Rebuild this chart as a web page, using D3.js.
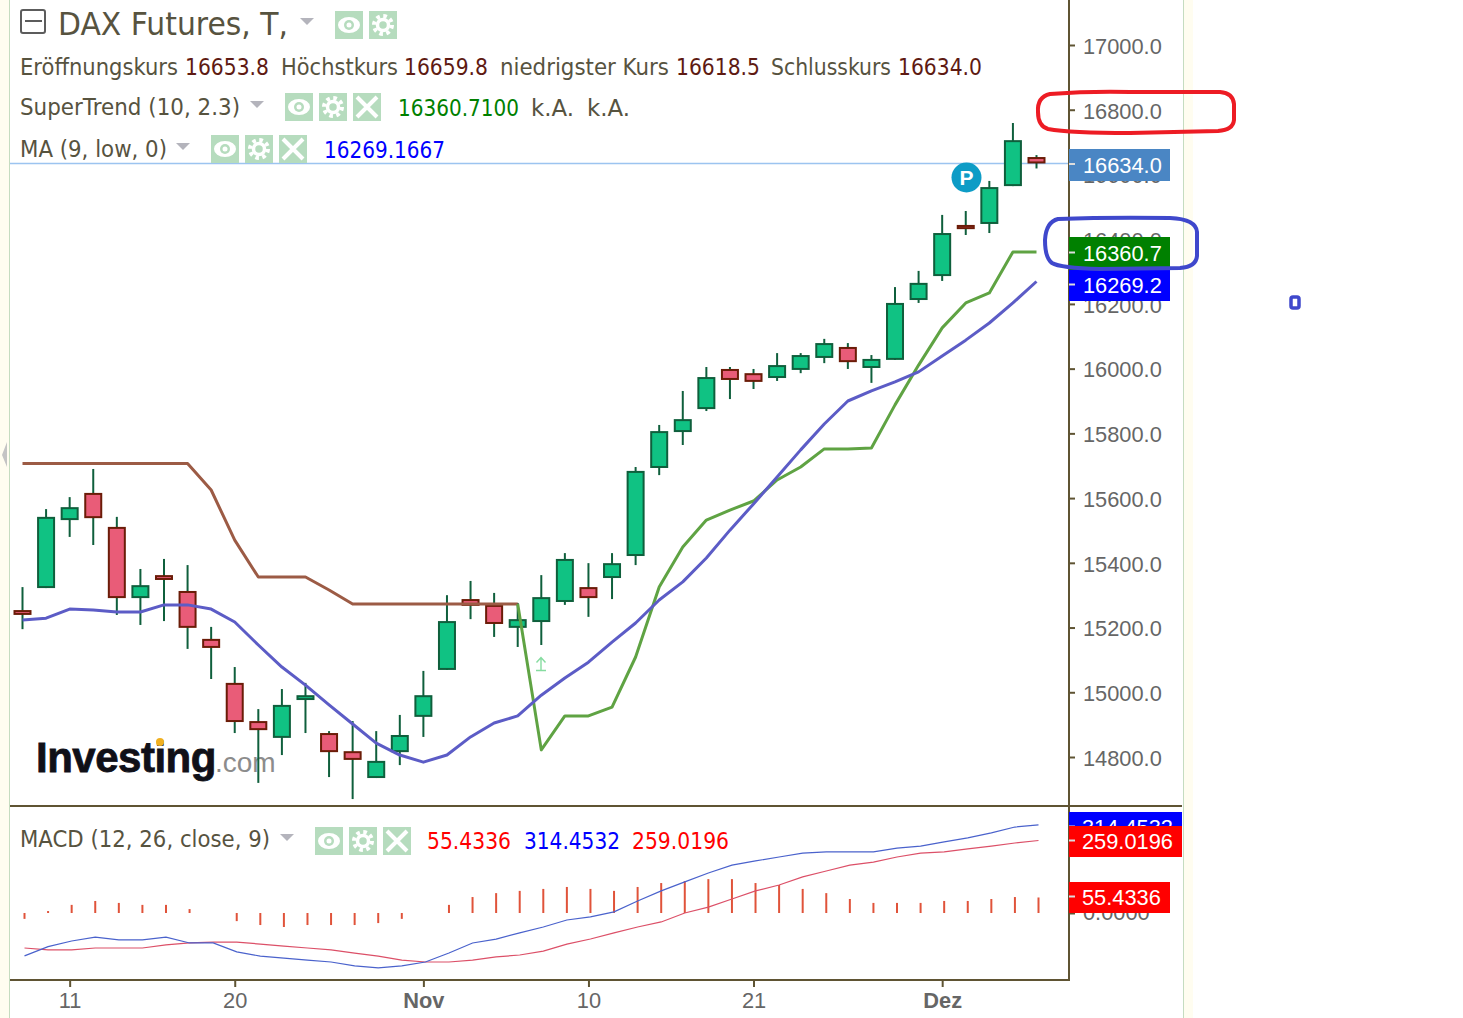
<!DOCTYPE html>
<html>
<head>
<meta charset="utf-8">
<script src="https://cdn.jsdelivr.net/npm/d3@7"></script>
<style>
html, body { margin: 0; padding: 0; background: #fff; }
svg { display: block; }
</style>
</head>
<body>
<svg id="chart" width="1463" height="1018"></svg>
<script>
// daily DAX futures
var opens = [15254,15322,15532,15616,15511,15291,15362,15313,15165,15029,14911,14859,14976,14874,14818,14735,14815,14924,15069,15288,15270,15199,15217,15279,15325,15353,15421,15693,15804,15875,15999,15986,15971,15996,16033,16067,16002,16027,16212,16286,16444,16447,16564,16653.8]
var highs = [15325,15566,15603,15690,15542,15381,15412,15393,15202,15078,14948,15010,15029,14880,14911,14880,14930,15066,15300,15344,15307,15276,15362,15430,15399,15430,15696,15826,15931,16005,16005,15999,16048,16048,16092,16079,16042,16252,16302,16475,16487,16580,16759,16659.8]
var lows = [15195,15322,15480,15455,15239,15208,15220,15134,15041,14874,14720,14806,14874,14738,14670,14735,14775,14862,15069,15226,15171,15140,15146,15270,15233,15288,15393,15671,15764,15869,15906,15937,15962,15986,16017,15999,15956,16027,16203,16271,16413,16419,16564,16618.5]
var closes = [15239,15542,15572,15538,15291,15331,15347,15199,15137,14908,14883,14961,14991,14815,14791,14788,14868,14991,15220,15267,15211,15226,15294,15412,15291,15399,15684,15807,15844,15974,15965,15959,16011,16042,16079,16020,16030,16203,16265,16419,16431,16561,16706,16634]

var superTrendDown = [15707,15707,15707,15707,15707,15707,15707,15707,15625,15470,15356,15356,15356,15316,15273,15273,15273,15273,15273,15273,15273,15273,null,null,null,null,null,null,null,null,null,null,null,null,null,null,null,null,null,null,null,null,null,null]
var superTrendUp = [null,null,null,null,null,null,null,null,null,null,null,null,null,null,null,null,null,null,null,null,null,15273,14822,14927,14927,14954,15109,15325,15449,15532,15563,15591,15656,15696,15752,15752,15755,15888,16011,16126,16203,16234,16360.7,16360.7]
var movingAverage = [15223,15229,15257,15254,15248,15248,15270,15270,15257,15217,15146,15078,15022,14961,14902,14843,14806,14784,14806,14862,14905,14927,14991,15044,15093,15155,15214,15285,15341,15415,15501,15582,15665,15749,15829,15900,15931,15959,15990,16039,16088,16141,16203,16269.2]

var macdLine = [-153,-120,-100,-86,-96,-96,-86,-107,-107,-139,-154,-161,-168,-175,-189,-196,-189,-175,-143,-107,-93,-71,-50,-25,-14,4,43,79,111,143,171,186,200,214,218,218,218,232,239,254,268,286,307,314.45]
var signalLine = [-125,-132,-132,-125,-125,-125,-114,-107,-104,-104,-111,-118,-125,-132,-143,-154,-168,-175,-175,-168,-157,-150,-136,-111,-93,-71,-50,-32,0,21,50,79,100,129,150,171,182,200,214,218,229,239,250,259]
var macdHistogram = [-21,7,29,43,36,29,29,14,0,-29,-43,-50,-43,-43,-43,-36,-21,0,29,57,71,79,86,93,86,79,93,107,114,121,121,107,100,86,71,50,36,36,36,43,43,50,57,55.43]

var priceTicks = [17000,16800,16600,16400,16200,16000,15800,15600,15400,15200,15000,14800]
var dateTickIndexes = [2,9,17,24,31,39]
var dateTickLabels = ["11","20","Nov","10","21","Dez"]
var monthLabels = ["Nov","Dez"]

var axisFont = "'Liberation Sans', Arial, sans-serif"
var legendFont = "'DejaVu Sans', Tahoma, sans-serif"
var axisColor = "#5f5433"
var legendColor = "#57533f"
var valueColor = "#5e1a12"

var svg = d3.select("#chart")

var indexes = d3.range(opens.length)
var x = d3.scalePoint().domain(indexes).range([22.5, 1036.5])
var y = d3.scaleLinear().domain([17000, 14800]).range([45, 757])
var macdY = d3.scaleLinear().domain([0, 300]).range([913, 829])

function drawPageEdges() {
    svg.append("rect").attr("x", 0).attr("y", 0).attr("width", 9).attr("height", 1018).attr("fill", "#fffdf0")
    svg.append("rect").attr("x", 9).attr("y", 0).attr("width", 1).attr("height", 1018).attr("fill", "#c5dcc0")
    svg.append("rect").attr("x", 1184).attr("y", 0).attr("width", 9).attr("height", 1018).attr("fill", "#fffdf0")
    svg.append("rect").attr("x", 1183).attr("y", 0).attr("width", 1).attr("height", 1018).attr("fill", "#c5dcc0")
    svg.append("path").attr("d", "M2,455L7,442L7,467Z").attr("fill", "#c4c4c4")
}

function drawAxes() {
    var priceAxis = d3.axisRight(y).tickValues(priceTicks).tickFormat(d3.format(".1f")).tickSize(6).tickPadding(8)
    var priceGroup = svg.append("g").attr("transform", "translate(1069,0)").call(priceAxis)
    styleAxis(priceGroup)
    priceGroup.selectAll("text").attr("dy", "0.38em")

    var macdAxis = d3.axisRight(macdY).tickValues([0]).tickFormat(d3.format(".4f")).tickSize(6).tickPadding(8)
    var macdGroup = svg.append("g").attr("transform", "translate(1069,0)").call(macdAxis)
    styleAxis(macdGroup)

    var dateAxis = d3.axisBottom(x).tickValues(dateTickIndexes)
        .tickFormat(function (d) { return dateTickLabels[dateTickIndexes.indexOf(d)] })
        .tickSize(7).tickPadding(6)
    var dateGroup = svg.append("g").attr("transform", "translate(0,980)").call(dateAxis)
    styleAxis(dateGroup)
    dateGroup.selectAll("text")
        .attr("font-weight", function (d, i) { return monthLabels.indexOf(dateTickLabels[i]) >= 0 ? "bold" : "normal" })

    svg.append("line").attr("x1", 1069).attr("x2", 1069).attr("y1", 0).attr("y2", 981).attr("stroke", axisColor).attr("stroke-width", 2)
    svg.append("line").attr("x1", 10).attr("x2", 1182).attr("y1", 806).attr("y2", 806).attr("stroke", axisColor).attr("stroke-width", 2)
    svg.append("line").attr("x1", 10).attr("x2", 1069).attr("y1", 980).attr("y2", 980).attr("stroke", axisColor).attr("stroke-width", 2)
}

function styleAxis(group) {
    group.select(".domain").remove()
    group.selectAll("line").attr("stroke", axisColor).attr("stroke-width", 2)
    group.selectAll("text").attr("fill", "#666").attr("font-family", axisFont).attr("font-size", 21.8)
}

function drawWatermark() {
    svg.append("text").attr("x", 36).attr("y", 772)
        .attr("font-family", axisFont).attr("font-size", 42).attr("font-weight", "bold")
        .attr("letter-spacing", -0.5).attr("fill", "#101018")
        .attr("stroke", "#101018").attr("stroke-width", 0.8).text("Investing")
    svg.append("text").attr("x", 215).attr("y", 772)
        .attr("font-family", axisFont).attr("font-size", 28).attr("fill", "#8c8c8c").text(".com")
    svg.append("circle").attr("cx", 160).attr("cy", 742).attr("r", 4).attr("fill", "#f0b020")
}

function drawCandles() {
    var candles = svg.append("g").selectAll("g").data(indexes).enter().append("g")

    candles.append("line")
        .attr("x1", function (i) { return x(i) }).attr("x2", function (i) { return x(i) })
        .attr("y1", function (i) { return y(highs[i]) }).attr("y2", function (i) { return y(lows[i]) })
        .attr("stroke", "#0f5f3c").attr("stroke-width", 2)

    candles.append("rect")
        .attr("x", function (i) { return x(i) - 8 })
        .attr("width", 16)
        .attr("y", function (i) { return y(Math.max(opens[i], closes[i])) + 1 })
        .attr("height", function (i) { return Math.max(1, Math.abs(y(opens[i]) - y(closes[i])) - 2) })
        .attr("fill", function (i) { return closes[i] >= opens[i] ? "#10c283" : "#e95c78" })
        .attr("stroke", function (i) { return closes[i] >= opens[i] ? "#0f5f3c" : "#6b1c08" })
        .attr("stroke-width", 2)
}

function drawPriceLine(values, color) {
    var line = d3.line()
        .defined(function (v) { return v !== null })
        .x(function (v, i) { return x(i) })
        .y(function (v) { return y(v) })
    svg.append("path").datum(values).attr("d", line).attr("fill", "none")
        .attr("stroke", color).attr("stroke-width", 3).attr("stroke-linejoin", "round")
}

function drawMacd() {
    svg.append("g").selectAll("line").data(indexes).enter().append("line")
        .attr("x1", function (i) { return x(i) + 2 }).attr("x2", function (i) { return x(i) + 2 })
        .attr("y1", macdY(0))
        .attr("y2", function (i) { return macdY(macdHistogram[i]) })
        .attr("stroke", "#e0533a").attr("stroke-width", 2)

    var line = d3.line().x(function (v, i) { return x(i) + 2 }).y(function (v) { return macdY(v) })
    svg.append("path").datum(signalLine).attr("d", line).attr("fill", "none").attr("stroke", "#dc5068").attr("stroke-width", 1.2)
    svg.append("path").datum(macdLine).attr("d", line).attr("fill", "none").attr("stroke", "#4a62cc").attr("stroke-width", 1.2)
}

function drawValueBox(label, color, left, right, top, bottom, textX) {
    svg.append("rect").attr("x", left).attr("y", top).attr("width", right - left).attr("height", bottom - top).attr("fill", color)
    svg.append("line").attr("x1", left).attr("x2", left + 6).attr("y1", (top + bottom) / 2 - 1).attr("y2", (top + bottom) / 2 - 1)
        .attr("stroke", "#ddd").attr("stroke-width", 2)
    svg.append("text").attr("x", textX).attr("y", (top + bottom) / 2).attr("dy", "0.36em")
        .attr("font-family", axisFont).attr("font-size", 21.8).attr("fill", "#fff").text(label)
}

function drawLegendText(text, left, right, baseline, color, size) {
    svg.append("text").attr("x", left).attr("y", baseline)
        .attr("font-family", legendFont).attr("font-size", size || 23).attr("fill", color)
        .attr("textLength", right - left).attr("lengthAdjust", "spacingAndGlyphs").text(text)
}

function drawDropArrow(cx, cy) {
    svg.append("path").attr("d", "M" + (cx - 7) + "," + (cy - 3) + "h14l-7,7Z").attr("fill", "#b4b4bc")
}

function drawIcon(kind, left, top) {
    var icon = svg.append("g").attr("transform", "translate(" + (left + 14) + "," + (top + 14) + ")")
    icon.append("rect").attr("x", -14).attr("y", -14).attr("width", 28).attr("height", 28).attr("fill", "#b6dcbe")
    if (kind === "eye") {
        icon.append("ellipse").attr("rx", 11).attr("ry", 8).attr("fill", "#fff")
        icon.append("circle").attr("r", 5).attr("fill", "#b6dcbe")
        icon.append("circle").attr("r", 2.5).attr("fill", "#fff")
    } else if (kind === "gear") {
        icon.append("circle").attr("r", 9).attr("fill", "none").attr("stroke", "#fff").attr("stroke-width", 4).attr("stroke-dasharray", "3.6 3.47")
        icon.append("circle").attr("r", 5.5).attr("fill", "none").attr("stroke", "#fff").attr("stroke-width", 3.5)
    } else {
        icon.append("path").attr("d", "M-10,-10L10,10M10,-10L-10,10").attr("stroke", "#fff").attr("stroke-width", 4)
    }
}

function drawLegend() {
    svg.append("rect").attr("x", 21).attr("y", 10).attr("width", 24).attr("height", 23).attr("rx", 2).attr("fill", "#fff").attr("stroke", "#5c5c5c").attr("stroke-width", 2)
    svg.append("line").attr("x1", 25).attr("x2", 42).attr("y1", 21).attr("y2", 21).attr("stroke", "#5c5c5c").attr("stroke-width", 2)
    drawLegendText("DAX Futures, T,", 58, 288, 35, legendColor, 32)
    drawDropArrow(307, 21)
    drawIcon("eye", 335, 11)
    drawIcon("gear", 369, 11)

    drawLegendText("Eröffnungskurs", 20, 178, 75, legendColor)
    drawLegendText("16653.8", 185, 269, 75, valueColor)
    drawLegendText("Höchstkurs", 281, 398, 75, legendColor)
    drawLegendText("16659.8", 404, 488, 75, valueColor)
    drawLegendText("niedrigster Kurs", 500, 669, 75, legendColor)
    drawLegendText("16618.5", 676, 760, 75, valueColor)
    drawLegendText("Schlusskurs", 771, 891, 75, legendColor)
    drawLegendText("16634.0", 898, 982, 75, valueColor)

    drawLegendText("SuperTrend (10, 2.3)", 20, 240, 115, legendColor)
    drawDropArrow(257, 104)
    drawIcon("eye", 285, 93)
    drawIcon("gear", 319, 93)
    drawIcon("close", 353, 93)
    drawLegendText("16360.7100", 398, 519, 116, "#008000")
    drawLegendText("k.A.", 531, 574, 116, legendColor)
    drawLegendText("k.A.", 587, 630, 116, legendColor)

    drawLegendText("MA (9, low, 0)", 20, 167, 157, legendColor)
    drawDropArrow(183, 146)
    drawIcon("eye", 211, 135)
    drawIcon("gear", 245, 135)
    drawIcon("close", 279, 135)
    drawLegendText("16269.1667", 324, 445, 158, "#0000ff")

    drawLegendText("MACD (12, 26, close, 9)", 20, 270, 847, legendColor)
    drawDropArrow(287, 837)
    drawIcon("eye", 315, 827)
    drawIcon("gear", 349, 827)
    drawIcon("close", 383, 827)
    drawLegendText("55.4336", 427, 511, 849, "#ff0000")
    drawLegendText("314.4532", 524, 620, 849, "#0000ff")
    drawLegendText("259.0196", 632, 729, 849, "#ff0000")
}

function drawMarkers() {
    svg.append("line").attr("x1", 10).attr("x2", 1069).attr("y1", y(closes[closes.length - 1])).attr("y2", y(closes[closes.length - 1]))
        .attr("stroke", "#9cc4f0").attr("stroke-width", 1.5)

    svg.append("circle").attr("cx", 966.5).attr("cy", 177.5).attr("r", 15).attr("fill", "#0d9cc6")
    svg.append("text").attr("x", 966.5).attr("y", 177.5).attr("dy", "0.36em").attr("text-anchor", "middle")
        .attr("font-family", axisFont).attr("font-size", 21).attr("font-weight", "bold").attr("fill", "#fff").text("P")

    svg.append("path").attr("d", "M541,670V658M536.5,662.5L541,657.5L545.5,662.5M536,670.5H546")
        .attr("fill", "none").attr("stroke", "#86dca0").attr("stroke-width", 1.4)
}

// the hand drawn marks on top of the screenshot
function drawAnnotations() {
    svg.append("path")
        .attr("d", "M1050,94Q1090,91 1130,92L1220,92Q1233,93 1234,104L1234,120Q1233,130 1218,131L1130,133Q1070,133 1048,129Q1038,126 1038,112Q1037,97 1050,94Z")
        .attr("fill", "none").attr("stroke", "#ed1c24").attr("stroke-width", 4)
    svg.append("path")
        .attr("d", "M1058,219Q1110,217 1170,218Q1196,219 1197,232L1197,256Q1196,267 1180,268L1100,269Q1060,268 1052,263Q1045,258 1045,240Q1046,222 1058,219Z")
        .attr("fill", "none").attr("stroke", "#3f48cc").attr("stroke-width", 4)
    svg.append("rect").attr("x", 1291).attr("y", 297).attr("width", 8).attr("height", 11).attr("rx", 2)
        .attr("fill", "none").attr("stroke", "#3f48cc").attr("stroke-width", 3.5)
}

drawPageEdges()
drawWatermark()
drawMarkers()
drawAxes()
drawCandles()
drawPriceLine(superTrendDown, "#9c5b45")
drawPriceLine(superTrendUp, "#5fa343")
drawPriceLine(movingAverage, "#5c5cc6")
drawMacd()
drawValueBox("16634.0", "#4a86c4", 1069, 1170, 149, 181, 1083)
drawValueBox("16269.2", "#0000ff", 1069, 1170, 270, 301, 1083)
drawValueBox("16360.7", "#008000", 1069, 1170, 237, 270, 1083)
drawValueBox("314.4532", "#0000ff", 1069, 1182, 812, 843, 1082)
drawValueBox("259.0196", "#ff0000", 1069, 1182, 826, 857, 1082)
drawValueBox("55.4336", "#ff0000", 1069, 1170, 882, 913, 1082)
drawLegend()
drawAnnotations()
</script>
</body>
</html>
